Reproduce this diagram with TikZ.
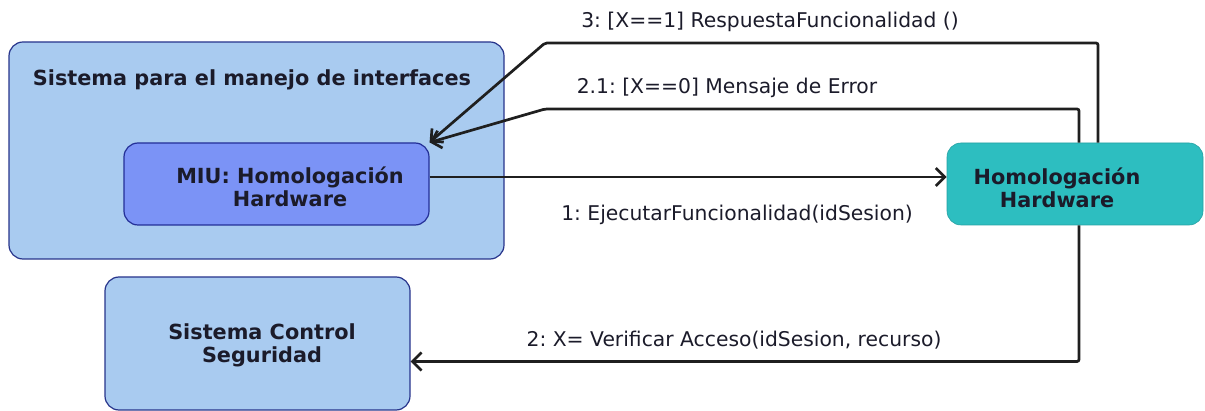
\documentclass[tikz,border=0pt]{standalone}
\usepackage{fontspec}
\setmainfont{DejaVu Sans}
\usetikzlibrary{arrows.meta}
\frenchspacing
\definecolor{outerfill}{HTML}{A9CBF0}
\definecolor{navy}{HTML}{27348B}
\definecolor{miufill}{HTML}{7B93F6}
\definecolor{tealfill}{HTML}{2DBEC0}
\definecolor{txt}{HTML}{1B1B2A}
\begin{document}
\begin{tikzpicture}[x=1pt,y=-1pt,
  box/.style={draw=navy, line width=1.2pt, rounded corners=14pt, inner sep=0pt},
  boxtext/.style={font=\fontsize{20.8}{23}\selectfont\bfseries, text=txt, align=center, inner sep=0pt},
  msg/.style={font=\fontsize{20.3}{23}\selectfont, text=txt, inner sep=0pt},
  conn/.style={draw=black!88, line width=2.7pt, rounded corners=2pt},
  arr/.style={conn, -{Straight Barb[length=9pt,width=18pt,line width=2.7pt]}}]
\useasboundingbox (0,0) rectangle (1205,411);
% boxes
\node[box, fill=outerfill, minimum width=495pt, minimum height=217pt] (outer) at (256.5,150.5) {};
\node[box, fill=miufill, draw=navy!90!blue, minimum width=305pt, minimum height=82pt] (miu) at (276.5,184) {};
\node[box, fill=tealfill, draw=tealfill!85!black, line width=0.6pt, minimum width=256pt, minimum height=82pt] (hh) at (1075,184) {};
\node[box, fill=outerfill, minimum width=305pt, minimum height=133pt] (scs) at (257.5,343.5) {};
% box texts
\node[boxtext] (outert) at (252,80) {Sistema para el manejo de interfaces};
\node[boxtext] (miut) at (290,187) {MIU: Homologación\\Hardware};
\node[boxtext] (hht) at (1057,187.5) {Homologación\\Hardware};
\node[boxtext] (scst) at (262,345.5) {Sistema Control\\Seguridad};
% connectors
\coordinate (c3) at (545,43);
\coordinate (c21) at (545,109);
\draw[arr] ([xshift=23pt]hh.north) |- (c3) -- (miu.north east);
\draw[arr] ([xshift=4pt]hh.north) |- (c21) -- (miu.north east);
\draw[arr] ([yshift=7pt]miu.east) -- ([yshift=7pt]hh.west);
\draw[arr] ([xshift=4pt]hh.south) |- ([yshift=-18pt]scs.east);
% labels
\node[msg] (l3) at (770,22) {3: [X==1] RespuestaFuncionalidad ()};
\node[msg] (l21) at (727,88) {2.1: [X==0] Mensaje de Error};
\node[msg] (l1) at (737,215) {1: EjecutarFuncionalidad(idSesion)};
\node[msg] (l2) at (734,340) {2: X= Verificar Acceso(idSesion, recurso)};
\end{tikzpicture}
\end{document}
